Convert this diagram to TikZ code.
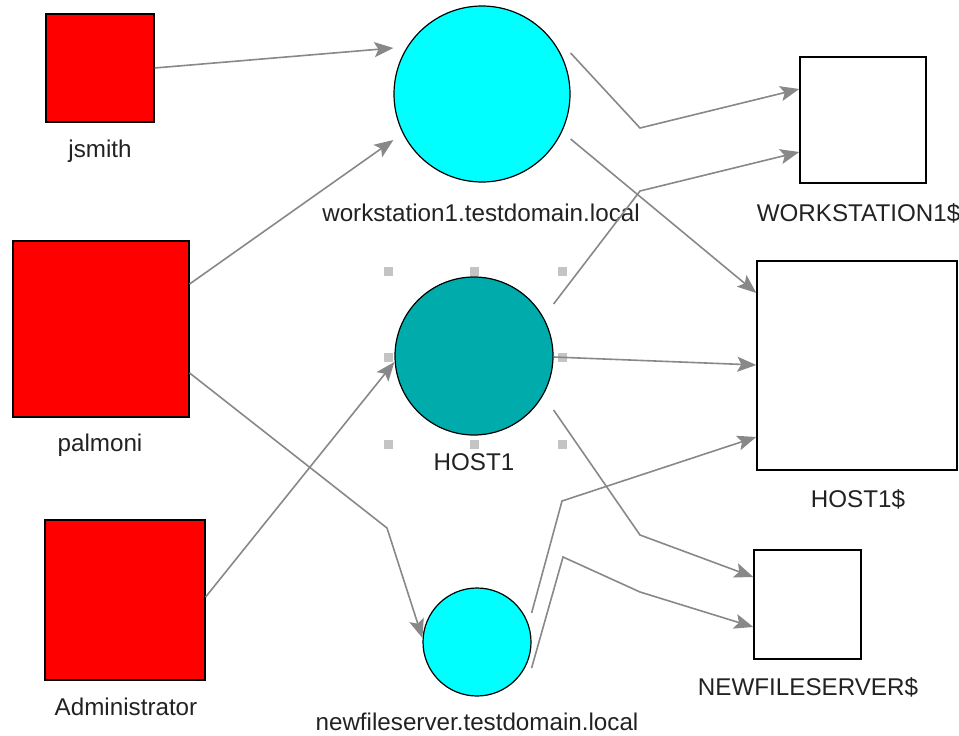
\documentclass[tikz,border=0pt]{standalone}
\usepackage{fontspec}
\setmainfont{Liberation Sans}
\usetikzlibrary{arrows.meta}
\definecolor{userred}{HTML}{FF0000}
\definecolor{hostcyan}{HTML}{00FFFF}
\definecolor{hostteal}{HTML}{00ABAB}
\definecolor{edgegray}{HTML}{888888}
\definecolor{handlegray}{HTML}{C4C4C4}
\definecolor{labeltext}{HTML}{222222}
\begin{document}
\begin{tikzpicture}[x=1pt,y=-1pt,
  user/.style={rectangle, draw=black, line width=1.2pt, fill=userred, inner sep=0pt, minimum size=#1},
  host/.style={circle, draw=black, line width=1.2pt, inner sep=0pt, minimum size=#1},
  acct/.style={rectangle, draw=black, line width=1.4pt, fill=white, inner sep=0pt},
  caption/.style={anchor=base, inner sep=0pt, text=labeltext, font=\fontsize{24.2}{28}\selectfont},
  edge/.style={draw=edgegray, line width=1.6pt, -{Stealth[length=19pt, width=15pt, inset=4pt]}},
  handle/.style={fill=handlegray}]
\useasboundingbox (0,0) rectangle (959,736);

% selection handles round the highlighted host
\foreach \hx in {388,474,562}
  \foreach \hy in {271,357,444}
    {\ifnum\hx=474 \ifnum\hy=357 \else \fill[handle] (\hx-4.5,\hy-4.5) rectangle (\hx+4.5,\hy+4.5);\fi
     \else \fill[handle] (\hx-4.5,\hy-4.5) rectangle (\hx+4.5,\hy+4.5);\fi}

% users
\node[user=108pt] (jsmith) at (100,68) {};
\node[user=176pt] (palmoni) at (101,329) {};
\node[user=160pt] (admin) at (125,600) {};

% hosts
\node[host=176pt, fill=hostcyan] (ws) at (482,94) {};
\node[host=158pt, fill=hostteal] (host) at (474,356) {};
\node[host=108pt, fill=hostcyan] (nfs) at (477,642) {};

% machine accounts
\node[acct, minimum width=126pt, minimum height=126pt] (wsacct) at (863,120) {};
\node[acct, minimum width=200pt, minimum height=209pt] (hostacct) at (857,365.5) {};
\node[acct, minimum width=107pt, minimum height=109pt] (nfsacct) at (807.5,604.5) {};

% captions
\node[caption] (jsmith-l) at (100,157) {jsmith};
\node[caption] (palmoni-l) at (100,451) {palmoni};
\node[caption] (admin-l) at (126,715) {Administrator};
\node[caption] (ws-l) at (481,221) {workstation1.testdomain.local};
\node[caption] (host-l) at (474,470) {HOST1};
\node[caption] (nfs-l) at (477,730) {newfileserver.testdomain.local};
\node[caption] (wsacct-l) at (858.5,221) {WORKSTATION1\$};
\node[caption] (hostacct-l) at (858,507) {HOST1\$};
\node[caption] (nfsacct-l) at (808,695) {NEWFILESERVER\$};

% relations
\draw[edge] (jsmith.east) -- (ws.west |- 0,48);
\draw[edge] (palmoni.east |- 0,284) -- (ws.west |- 0,140);
\draw[edge] (palmoni.east |- 0,373) -- (387,528) -- (nfs.west |- 0,638);
\draw[edge] (admin.east |- 0,597) -- (host.west |- 0,362);
\draw[edge] (ws.east |- 0,53) -- (640,128) -- (wsacct.west |- 0,89);
\draw[edge] (ws.east |- 0,139) -- (hostacct.west |- 0,293);
\draw[edge] (host.east |- 0,304) -- (640,191) -- (wsacct.west |- 0,152);
\draw[edge] (host.east |- 0,357) -- (hostacct.west |- 0,365);
\draw[edge] (host.east |- 0,410) -- (640,535) -- (nfsacct.west |- 0,577);
\draw[edge] (nfs.east |- 0,613) -- (562,501) -- (hostacct.west |- 0,437);
\draw[edge] (nfs.east |- 0,668) -- (563,557) -- (640,592) -- (nfsacct.west |- 0,627);
\end{tikzpicture}
\end{document}
